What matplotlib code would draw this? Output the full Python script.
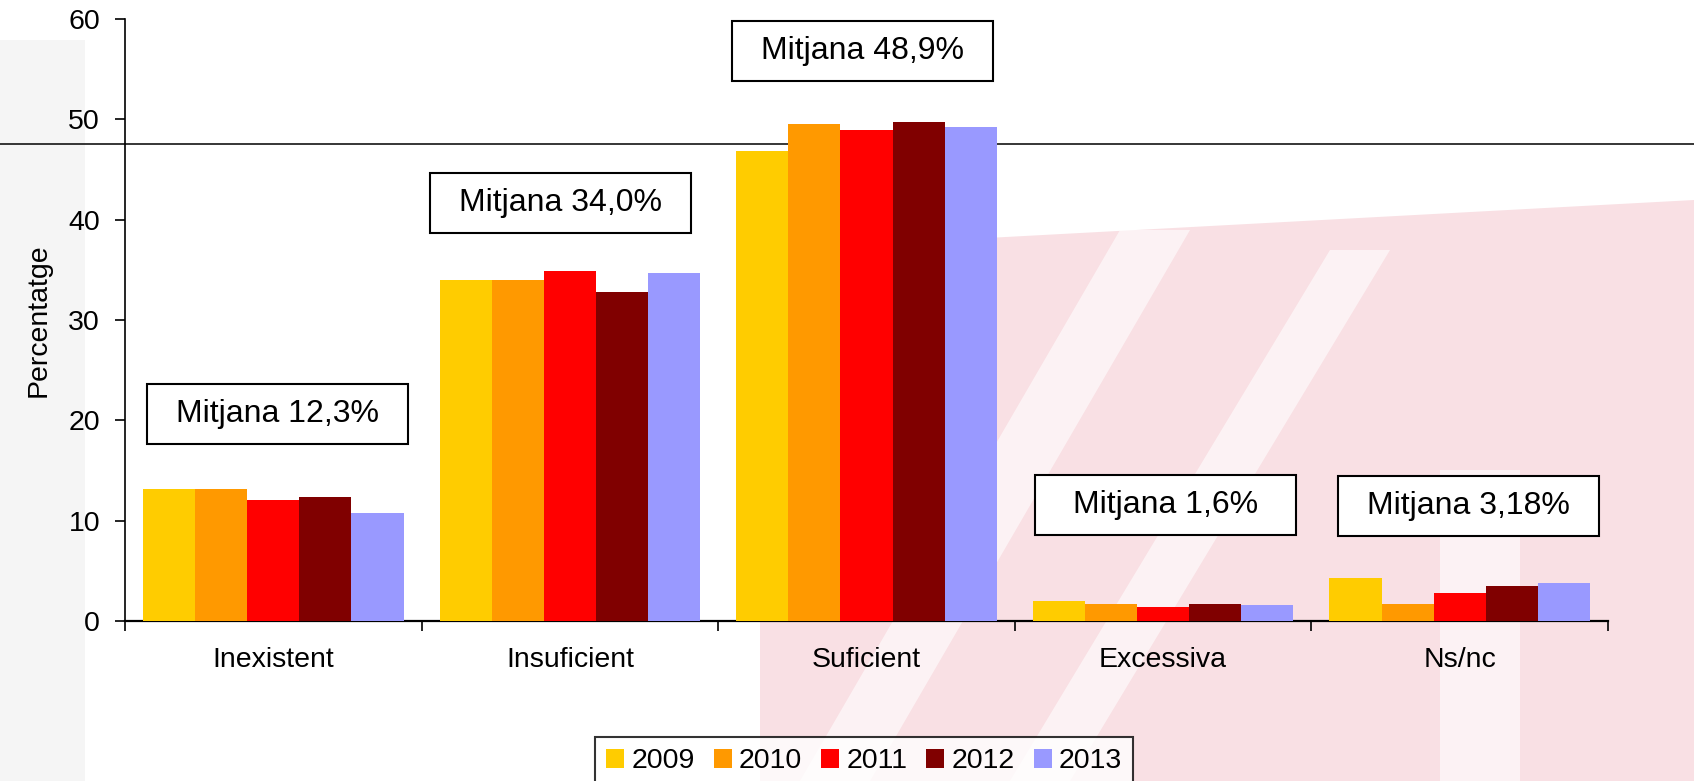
import matplotlib
matplotlib.use("Agg")
import matplotlib.pyplot as plt
import matplotlib.transforms as mtransforms
from matplotlib.patches import Rectangle, Polygon
from matplotlib.lines import Line2D
import numpy as np

plt.rcParams['font.family'] = ['Liberation Sans', 'DejaVu Sans']

# data
categories = ['Inexistent', 'Insuficient', 'Suficient', 'Excessiva', 'Ns/nc']
years = ['2009', '2010', '2011', '2012', '2013']
v2009 = [13.2, 34.0, 46.8, 2.0, 4.25]
v2010 = [13.2, 34.0, 49.5, 1.7, 1.7]
v2011 = [12.1, 34.9, 48.9, 1.4, 2.75]
v2012 = [12.4, 32.8, 49.7, 1.7, 3.45]
v2013 = [10.75, 34.7, 49.2, 1.6, 3.75]
means = ['Mitjana 12,3%', 'Mitjana 34,0%', 'Mitjana 48,9%', 'Mitjana 1,6%', 'Mitjana 3,18%']
ref_line = 47.5

colors = ['#FFCC00', '#FF9900', '#FF0000', '#800000', '#9999FF']

W, H = 1694, 781
fig = plt.figure(figsize=(W / 100, H / 100), dpi=100)

def fx(px):
    return px / W

def fy(py):
    return 1 - py / H

# faint watermark in the background (kept very light)
pink = '#f9e0e4'
fig.patches.append(Polygon([(fx(760), fy(781)), (fx(760), fy(330)), (fx(950), fy(240)),
                            (fx(1694), fy(200)), (fx(1694), fy(781))],
                           closed=True, transform=fig.transFigure, fc=pink, ec='none', zorder=0))
for x0, x1, y0, y1, w in [(800, 1120, 781, 230, 70), (1010, 1330, 781, 250, 60)]:
    fig.patches.append(Polygon([(fx(x0), fy(y0)), (fx(x0 + w), fy(y0)), (fx(x1 + w), fy(y1)), (fx(x1), fy(y1))],
                               closed=True, transform=fig.transFigure, fc='white', ec='none',
                               alpha=0.6, zorder=0))
fig.patches.append(Rectangle((fx(1440), 0), fx(80), fy(470), transform=fig.transFigure,
                             fc='white', ec='none', alpha=0.6, zorder=0))
fig.patches.append(Rectangle((0, 0), fx(85), fy(40), transform=fig.transFigure,
                             fc='#f5f5f5', ec='none', zorder=0))

ax = fig.add_axes([fx(125), fy(621), fx(1608 - 125), (621 - 19) / H])
ax.set_facecolor('none')
ax.set_zorder(2)

x = np.arange(len(categories))
bw = 0.1757
series = [v2009, v2010, v2011, v2012, v2013]
for i, (vals, yr) in enumerate(zip(series, years)):
    ax.bar(x + (i - 2) * bw, vals, width=bw, color=colors[i], label=yr, zorder=3)

ax.set_xlim(-0.5, 4.5)
ax.set_ylim(0, 60)
ax.set_yticks(np.arange(0, 61, 10))
ax.set_xticks(np.arange(-0.5, 4.6, 1.0))
ax.set_xticklabels([])
ax.set_xticks(x, minor=True)
ax.set_xticklabels(categories, minor=True)
ax.tick_params(axis='x', which='major', direction='out', length=7, width=1.2)
ax.tick_params(axis='x', which='minor', length=0, pad=19, labelsize=20.5)
ax.tick_params(axis='y', direction='out', length=7, width=1.2, pad=11, labelsize=20.5)
for s in ['top', 'right']:
    ax.spines[s].set_visible(False)
ax.spines['left'].set_linewidth(1.2)
ax.spines['bottom'].set_linewidth(1.6)
ax.set_ylabel('Percentatge', fontsize=20.5, labelpad=12)

# mean boxes
box_x = [0.014, 0.968, 1.988, 3.008, 4.03]
box_y = [20.6, 41.7, 56.8, 11.6, 11.5]
bxw, bxh = 0.88, 6.0
for cx, cy, txt in zip(box_x, box_y, means):
    ax.add_patch(Rectangle((cx - bxw / 2, cy - bxh / 2), bxw, bxh, fc='white', ec='black',
                           lw=1.5, zorder=4, clip_on=False))
    ax.text(cx, cy, txt, ha='center', va='center', fontsize=23, zorder=5)

# reference line across the whole figure
trans = mtransforms.blended_transform_factory(fig.transFigure, ax.transData)
ax.add_line(Line2D([0, 1], [ref_line, ref_line], transform=trans, color='black', lw=1.1,
                   clip_on=False, zorder=2))

leg = fig.legend(loc='upper left', bbox_to_anchor=(fx(595), fy(737)), ncol=5, fontsize=20.5,
                 frameon=True, fancybox=False, edgecolor='black', handlelength=0.63,
                 handleheight=0.67, handletextpad=0.25, columnspacing=0.67, borderpad=0.4,
                 borderaxespad=0)
leg.get_frame().set_linewidth(1.5)
leg.set_zorder(3)

fig.savefig('out.png', dpi=100)
